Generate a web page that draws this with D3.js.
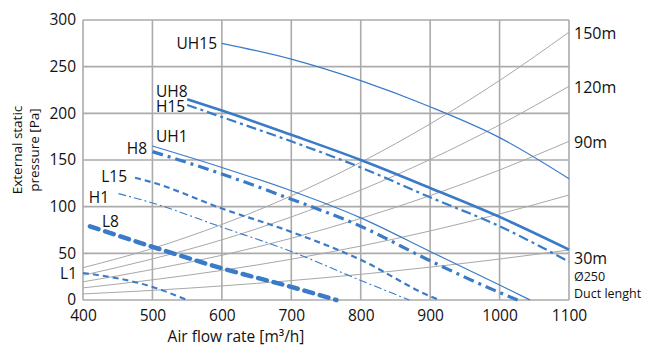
<!DOCTYPE html>
<html>
<head>
<meta charset="utf-8">
<script src="https://cdn.jsdelivr.net/npm/d3@7"></script>
<style>
  html, body { margin: 0; padding: 0; background: #fff; }
  svg { display: block; font-family: "Open Sans", "Noto Sans", sans-serif; }
</style>
</head>
<body>
<svg id="chart" width="650" height="354"></svg>
<script>
// ---------- data ----------
const flowTicks = [400, 500, 600, 700, 800, 900, 1000, 1100];
const pressureTicks = [0, 50, 100, 150, 200, 250, 300];

// duct resistance curves (Ø250), by duct length
const ductFlow = [400, 500, 600, 700, 800, 900, 1000, 1100];
const duct30  = [6.5, 10.3, 15.1, 20.8, 27.5, 35.2, 43.9, 53.6];
const duct60  = [13.0, 21.6, 31.7, 43.7, 57.8, 74.0, 92.2, 112.5];
const duct90  = [19.5, 32.7, 47.9, 66.1, 87.4, 111.8, 139.3, 170];
const duct120 = [26.5, 44.0, 64.5, 89.0, 117.7, 150.6, 187.6, 229];
const duct150 = [34.6, 55.2, 80.9, 111.6, 147.5, 188.7, 235.2, 287];
const ductNames = ["30m", "60m", "90m", "120m", "150m"];
const ductLabels = ["30m", "", "90m", "120m", "150m"];

// fan curves
const uh15Flow = [600, 700, 800, 900, 1000, 1100];
const uh15P    = [275, 258, 235, 207, 174, 130];
const uh8Flow  = [550, 600, 700, 800, 900, 1000, 1100];
const uh8P     = [215, 203, 177, 150, 120, 89, 54];
const h15Flow  = [550, 600, 700, 800, 900, 1000, 1100];
const h15P     = [209, 196, 170, 142, 110, 79, 41];
const uh1Flow  = [500, 600, 700, 800, 900, 1000, 1044];
const uh1P     = [165, 142, 117, 88, 52, 16, 0];
const h8Flow   = [500, 600, 700, 800, 900, 1000, 1026];
const h8P      = [159, 135, 108, 79, 42, 8, 0];
const l15Flow  = [475, 500, 600, 700, 800, 900, 913];
const l15P     = [131, 126, 98, 73, 43, 4, 0];
const h1Flow   = [451, 500, 600, 700, 800, 870];
const h1P      = [114, 104, 78, 52, 21, 0];
const l8Flow   = [410, 500, 600, 700, 765];
const l8P      = [79, 57, 34, 14, 0];
const l1Flow   = [400, 500, 550];
const l1P      = [29, 14, 0];

const fanNames = ["UH15", "UH8", "H15", "UH1", "H8", "L15", "H1", "L8", "L1"];

// ---------- layout / styles ----------
const W = 650, H = 354;
const M = { left: 83, right: 81, top: 20, bottom: 54 };
const BLUE = "#3a7bc8";
const GRID = "#ababab";
const DUCT = "#a8a8a8";

const fanStyle = {
  UH15: { w: 1.2, dash: null },
  UH8:  { w: 2.6, dash: null },
  H15:  { w: 2.2, dash: "10,4,3,4" },
  UH1:  { w: 1.2, dash: null },
  H8:   { w: 3.2, dash: "11,5,3,5" },
  L15:  { w: 2.2, dash: "6,4" },
  H1:   { w: 1.1, dash: "8,3,2,3" },
  L8:   { w: 4.5, dash: "9,7", cap: "round" },
  L1:   { w: 2.0, dash: "6,4" }
};
// label placement in pixels
const fanLabelPos = {
  UH15: { x: 217, y: 49, anchor: "end" },
  UH8:  { x: 156, y: 97, anchor: "start" },
  H15:  { x: 156, y: 112, anchor: "start" },
  UH1:  { x: 156, y: 142, anchor: "start" },
  H8:   { x: 147, y: 154, anchor: "end" },
  L15:  { x: 127, y: 182, anchor: "end" },
  H1:   { x: 109, y: 203, anchor: "end" },
  L8:   { x: 102, y: 227, anchor: "start" },
  L1:   { x: 77,  y: 279, anchor: "end" }
};

const svg = d3.select("#chart");
const x = d3.scaleLinear().domain([400, 1100]).range([M.left, W - M.right]);
const y = d3.scaleLinear().domain([0, 300]).range([H - M.bottom, M.top]);

// grid
const g = svg.append("g");
g.selectAll(".vg").data(flowTicks).join("line")
  .attr("x1", d => x(d)).attr("x2", d => x(d))
  .attr("y1", y(0)).attr("y2", y(300))
  .attr("stroke", GRID).attr("stroke-width", 1.6);
g.selectAll(".hg").data(pressureTicks).join("line")
  .attr("x1", x(400)).attr("x2", x(1100))
  .attr("y1", d => y(d)).attr("y2", d => y(d))
  .attr("stroke", GRID).attr("stroke-width", 1.6);

// axes (labels only)
const xAxis = d3.axisBottom(x).tickValues(flowTicks).tickFormat(d3.format("d")).tickSize(0).tickPadding(10);
const yAxis = d3.axisLeft(y).tickValues(pressureTicks).tickFormat(d3.format("d")).tickSize(0).tickPadding(7);
const xa = svg.append("g").attr("transform", `translate(0,${y(0)})`).call(xAxis);
const ya = svg.append("g").attr("transform", `translate(${x(400)},0)`).call(yAxis);
[xa, ya].forEach(a => {
  a.select(".domain").remove();
  a.selectAll("text").attr("fill", "#111").style("font-size", "15.5px")
    .style("font-family", '"Open Sans", sans-serif');
});

// duct curves
const ductSeries = [duct30, duct60, duct90, duct120, duct150];
const ductLine = d3.line().x((d, i) => x(ductFlow[i])).y(d => y(d)).curve(d3.curveMonotoneX);
svg.append("g").selectAll("path").data(ductSeries).join("path")
  .attr("d", d => ductLine(d))
  .attr("fill", "none").attr("stroke", DUCT).attr("stroke-width", 1);

// fan curves
const fanData = {
  UH15: [uh15Flow, uh15P], UH8: [uh8Flow, uh8P], H15: [h15Flow, h15P],
  UH1: [uh1Flow, uh1P], H8: [h8Flow, h8P], L15: [l15Flow, l15P],
  H1: [h1Flow, h1P], L8: [l8Flow, l8P], L1: [l1Flow, l1P]
};
const fanLine = d3.line().x(d => x(d[0])).y(d => y(d[1])).curve(d3.curveMonotoneX);
const fg = svg.append("g");
fanNames.forEach(n => {
  const [fx, fp] = fanData[n];
  const pts = fx.map((v, i) => [v, fp[i]]);
  const s = fanStyle[n];
  fg.append("path").attr("d", fanLine(pts))
    .attr("fill", "none").attr("stroke", BLUE)
    .attr("stroke-width", s.w)
    .attr("stroke-dasharray", s.dash)
    .attr("stroke-linecap", s.cap || "butt");
  const lp = fanLabelPos[n];
  svg.append("text").attr("x", lp.x).attr("y", lp.y)
    .attr("text-anchor", lp.anchor)
    .attr("font-size", 15.5).attr("fill", "#111").text(n);
});

// duct labels on right
const rg = svg.append("g");
ductSeries.forEach((d, i) => {
  if (!ductLabels[i]) return;
  const yy = y(d[d.length - 1]) + (ductLabels[i] === "30m" ? 14 : 7);
  rg.append("text").attr("x", x(1100) + 5).attr("y", yy)
    .attr("font-size", 16).attr("fill", "#111").text(ductLabels[i]);
});
rg.append("text").attr("x", x(1100) + 5).attr("y", 281)
  .attr("font-size", 12.5).attr("fill", "#111").text("Ø250");
rg.append("text").attr("x", x(1100) + 5).attr("y", 298)
  .attr("font-size", 12.5).attr("fill", "#111").text("Duct lenght");

// axis titles
svg.append("text").attr("x", 236).attr("y", 342).attr("text-anchor", "middle")
  .attr("font-size", 15.5).attr("fill", "#111").text("Air flow rate [m³/h]");
const yt = svg.append("text").attr("transform", "translate(0,150) rotate(-90)")
  .attr("text-anchor", "middle").attr("font-size", 13.5).attr("fill", "#111");
yt.append("tspan").attr("x", 0).attr("y", 22).text("External static");
yt.append("tspan").attr("x", 0).attr("y", 39).text("pressure [Pa]");
</script>
</body>
</html>
